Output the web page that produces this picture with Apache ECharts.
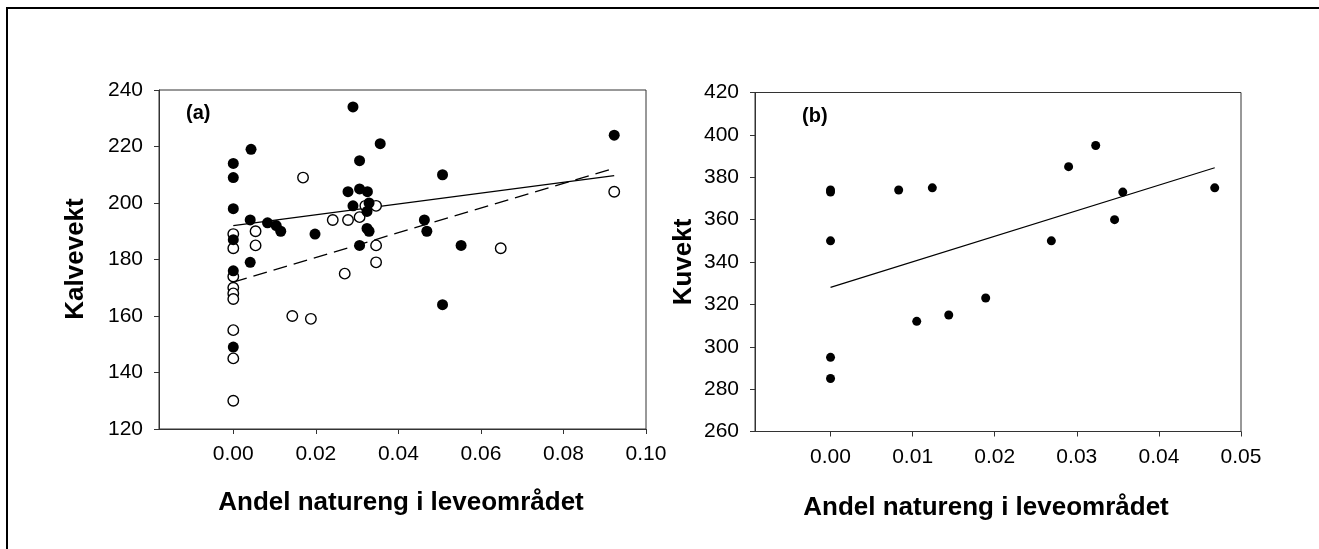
<!DOCTYPE html>
<html>
<head>
<meta charset="utf-8">
<script src="https://cdn.jsdelivr.net/npm/echarts@6/dist/echarts.min.js"></script>
<style>
html,body{margin:0;padding:0;background:#fff;}
#c{width:1319px;height:549px;}
</style>
</head>
<body>
<div id="c"></div>
<script>
// ---- Panel (a): Kalvevekt vs Andel natureng ----
const xTicksA = [0, 0.02, 0.04, 0.06, 0.08, 0.10];
const calfFilled = [
  [0, 214], [0, 209], [0, 198], [0, 187], [0, 176], [0, 149],
  [0.0043, 219], [0.0041, 194], [0.0041, 179], [0.0083, 193], [0.0104, 192],
  [0.0115, 190], [0.0198, 189], [0.0278, 204], [0.029, 234], [0.029, 199],
  [0.0306, 215], [0.0306, 205], [0.0306, 185], [0.0325, 204], [0.0329, 200],
  [0.0324, 197], [0.0324, 191], [0.0329, 190], [0.0356, 221], [0.0463, 194],
  [0.0469, 190], [0.0507, 210], [0.0507, 164], [0.0552, 185], [0.0923, 224]
];
const calfOpen = [
  [0, 189], [0, 184], [0, 174], [0, 170], [0, 168], [0, 166], [0, 155],
  [0, 145], [0, 130], [0.0054, 190], [0.0054, 185], [0.0143, 160],
  [0.0169, 209], [0.0188, 159], [0.0241, 194], [0.027, 175], [0.0278, 194],
  [0.0306, 195], [0.032, 199], [0.0346, 199], [0.0346, 185], [0.0346, 179],
  [0.0648, 184], [0.0923, 204]
];
const calfFilledFit = [[0, 192], [0.0923, 209.7]];
const calfOpenFit = [[0, 172], [0.0923, 212.3]];

// ---- Panel (b): Kuvekt vs Andel natureng ----
const xTicksB = [0, 0.01, 0.02, 0.03, 0.04, 0.05];
const cowPoints = [
  [0, 374], [0, 373], [0, 350], [0, 295], [0, 285],
  [0.0083, 374], [0.0124, 375], [0.0105, 312], [0.0144, 315], [0.0189, 323],
  [0.0269, 350], [0.029, 385], [0.0323, 395], [0.0346, 360], [0.0356, 373],
  [0.0468, 375]
];
const cowFit = [[0, 328], [0.0468, 384.5]];

const FONT = 'Liberation Sans, Arial, sans-serif';
const AX = '#333';

function xAxis(gi, min, max, ticks) {
  return {
    type: 'value', gridIndex: gi, min: min, max: max,
    axisLine: { show: true, onZero: false, lineStyle: { color: AX, width: 1 } },
    axisTick: { show: true, length: 5, inside: false, customValues: ticks, lineStyle: { color: AX } },
    axisLabel: { customValues: ticks, margin: 15, color: '#000', fontFamily: FONT, fontSize: 21,
      formatter: v => v.toFixed(2) },
    splitLine: { show: false }
  };
}
function yAxis(gi, min, max) {
  return {
    type: 'value', gridIndex: gi, min: min, max: max, interval: 20,
    axisLine: { show: true, onZero: false, lineStyle: { color: AX, width: 1 } },
    axisTick: { show: true, length: 5, lineStyle: { color: AX } },
    axisLabel: { margin: 16, color: '#000', fontFamily: FONT, fontSize: 21 },
    splitLine: { show: false }
  };
}

const chart = echarts.init(document.getElementById('c'), null, { renderer: 'canvas' });
chart.setOption({
  animation: false,
  backgroundColor: '#fff',
  grid: [
    { left: 159, top: 90, width: 487, height: 339, show: true, borderColor: AX, borderWidth: 1, backgroundColor: 'transparent' },
    { left: 755, top: 92.5, width: 486, height: 339, show: true, borderColor: AX, borderWidth: 1, backgroundColor: 'transparent' }
  ],
  xAxis: [xAxis(0, -0.018, 0.10, xTicksA), xAxis(1, -0.0092, 0.05, xTicksB)],
  yAxis: [yAxis(0, 120, 240), yAxis(1, 260, 420)],
  graphic: [
    { type: 'rect', shape: { x: 7, y: 8, width: 1400, height: 700 }, style: { fill: 'none', stroke: '#000', lineWidth: 2 }, silent: true },
    { type: 'text', x: 186, y: 113, style: { text: '(a)', font: 'bold 20px ' + FONT, fill: '#000', textVerticalAlign: 'middle' } },
    { type: 'text', x: 802, y: 116, style: { text: '(b)', font: 'bold 20px ' + FONT, fill: '#000', textVerticalAlign: 'middle' } },
    { type: 'text', x: 401, y: 503, style: { text: 'Andel natureng i leveområdet', font: 'bold 26px ' + FONT, fill: '#000', textAlign: 'center', textVerticalAlign: 'middle' } },
    { type: 'text', x: 986, y: 508, style: { text: 'Andel natureng i leveområdet', font: 'bold 26px ' + FONT, fill: '#000', textAlign: 'center', textVerticalAlign: 'middle' } },
    { type: 'text', x: 76, y: 259, rotation: Math.PI / 2, style: { text: 'Kalvevekt', font: 'bold 26px ' + FONT, fill: '#000', textAlign: 'center', textVerticalAlign: 'middle' } },
    { type: 'text', x: 684, y: 262, rotation: Math.PI / 2, style: { text: 'Kuvekt', font: 'bold 26px ' + FONT, fill: '#000', textAlign: 'center', textVerticalAlign: 'middle' } }
  ],
  series: [
    { type: 'line', xAxisIndex: 0, yAxisIndex: 0, data: calfFilledFit, symbol: 'none', z: 2,
      lineStyle: { color: '#000', width: 1.3, type: 'solid' } },
    { type: 'line', xAxisIndex: 0, yAxisIndex: 0, data: calfOpenFit, symbol: 'none', z: 2,
      lineStyle: { color: '#000', width: 1.3, type: [14, 7] } },
    { type: 'scatter', xAxisIndex: 0, yAxisIndex: 0, data: calfOpen, symbol: 'circle', symbolSize: 10.5, z: 3,
      itemStyle: { color: '#fff', borderColor: '#000', borderWidth: 1.4, opacity: 1 } },
    { type: 'scatter', xAxisIndex: 0, yAxisIndex: 0, data: calfFilled, symbol: 'circle', symbolSize: 11, z: 4,
      itemStyle: { color: '#000', opacity: 1 } },
    { type: 'line', xAxisIndex: 1, yAxisIndex: 1, data: cowFit, symbol: 'none', z: 2,
      lineStyle: { color: '#000', width: 1.2, type: 'solid' } },
    { type: 'scatter', xAxisIndex: 1, yAxisIndex: 1, data: cowPoints, symbol: 'circle', symbolSize: 9, z: 4,
      itemStyle: { color: '#000', opacity: 1 } }
  ]
});
</script>
</body>
</html>
